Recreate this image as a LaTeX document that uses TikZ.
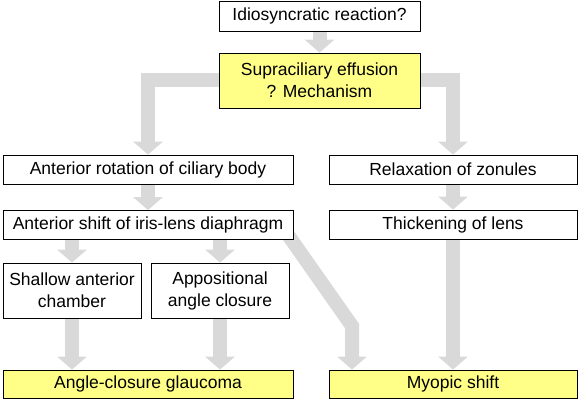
\documentclass[tikz,border=0pt]{standalone}
\usepackage{fontspec}
\setmainfont{Liberation Sans}
\usetikzlibrary{arrows.meta,backgrounds,calc}
\definecolor{boxyellow}{RGB}{255,255,136}
\definecolor{arrowgray}{RGB}{217,217,217}
\tikzset{
  box/.style={draw=black, line width=0.8pt, fill=white, inner sep=0pt,
    minimum height=29pt, align=center, font=\fontsize{17.5}{22}\selectfont},
  keybox/.style={box, fill=boxyellow},
  flow/.style={draw=arrowgray, line width=14pt,
    -{Triangle[width=29pt,length=13pt]}}
}
\begin{document}
\begin{tikzpicture}[x=1pt,y=-1pt]
  \useasboundingbox (0,0) rectangle (580,403);
  % top of the chart
  \node[box, minimum width=201pt, minimum height=30pt] (idio) at (319.5,16) {Idiosyncratic reaction?};
  \node[keybox, minimum width=201pt, minimum height=55pt] (supra) at (319.5,80.5) {Supraciliary effusion\\? Mechanism};
  % left branch
  \node[box, minimum width=290pt] (rot) at (148,169.5) {Anterior rotation of ciliary body};
  \node[box, minimum width=290pt] (shift) at (148,225) {Anterior shift of iris-lens diaphragm};
  \node[box, minimum width=138pt, minimum height=55pt] (shallow) at (72,290.5) {Shallow anterior\\chamber};
  \node[box, minimum width=138pt, minimum height=55pt] (appo) at (220,290.5) {Appositional\\angle closure};
  \node[keybox, minimum width=290pt, minimum height=28pt] (acg) at (148,384) {Angle-closure glaucoma};
  % right branch
  \node[box, minimum width=248pt] (zon) at (453,169.5) {Relaxation of zonules};
  \node[box, minimum width=248pt] (lens) at (453,224.5) {Thickening of lens};
  \node[keybox, minimum width=248pt, minimum height=28pt] (myo) at (453,384) {Myopic shift};
  \coordinate (diagstart) at (286,232);
  \coordinate (kink) at (352,326);
  \begin{scope}[on background layer]
    \draw[flow] (idio.south) -- (supra.north);
    \draw[flow] (supra.west) -| (rot.north);
    \draw[flow] (supra.east) -| (zon.north);
    \draw[flow] (rot) -- (shift);
    \draw[flow] (zon) -- (lens);
    \draw[flow] (shallow.north |- shift.south) -- (shallow.north);
    \draw[flow] (appo.north |- shift.south) -- (appo.north);
    \draw[flow] (shallow.south) -- (shallow.south |- acg.north);
    \draw[flow] (appo.south) -- (appo.south |- acg.north);
    \draw[flow] (diagstart) -- (kink) -- (kink |- myo.north);
    \draw[flow] (lens) -- (myo);
  \end{scope}
\end{tikzpicture}
\end{document}
